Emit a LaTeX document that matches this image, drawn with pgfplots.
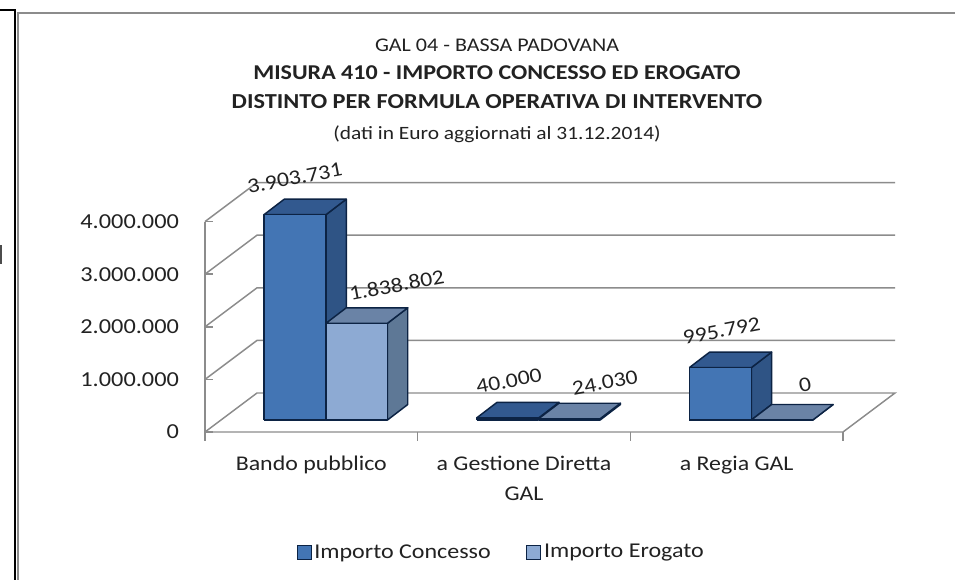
\documentclass[border=0pt]{standalone}
\usepackage{fontspec}
\setmainfont[FakeStretch=1.14]{Carlito}
\usepackage{pgfplots}
\pgfplotsset{compat=1.18}
\definecolor{gridc}{HTML}{8C8C8C}
\definecolor{edgec}{HTML}{0C2344}
\definecolor{cfront}{HTML}{4375B4}
\definecolor{ctop}{HTML}{32598F}
\definecolor{cside}{HTML}{2F5485}
\definecolor{efront}{HTML}{8DAAD3}
\definecolor{etop}{HTML}{6A83A6}
\definecolor{eside}{HTML}{5E7896}
\definecolor{textc}{HTML}{222222}
% one bar: x-left, x-right, value in euro, front, top and side colours
\newcommand{\cube}[6]{%
  \pgfmathsetmacro\xa{#1+0.0954}%
  \pgfmathsetmacro\xb{#2+0.0954}%
  \edef\ybase{228137}%
  \edef\ybaseb{\the\numexpr228137+294700\relax}%
  \edef\ytop{\the\numexpr228137+#3\relax}%
  \edef\ytopb{\the\numexpr228137+#3+294700\relax}%
  \edef\doit{%
    \noexpand\addplot[fill=#6,draw=edgec,line width=1.1pt,line join=round,forget plot] coordinates {(#2,\ybase) (\xb,\ybaseb) (\xb,\ytopb) (#2,\ytop) (#2,\ybase)};
    \noexpand\addplot[fill=#5,draw=edgec,line width=1.1pt,line join=round,forget plot] coordinates {(#1,\ytop) (#2,\ytop) (\xb,\ytopb) (\xa,\ytopb) (#1,\ytop)};
    \noexpand\addplot[fill=#4,draw=edgec,line width=1.1pt,line join=round,forget plot] coordinates {(#1,\ybase) (#2,\ybase) (#2,\ytop) (#1,\ytop) (#1,\ybase)};
  }\doit}
\begin{document}
\begin{tikzpicture}
\begin{scope}[x=0.75pt,y=-0.75pt]
  \path[use as bounding box] (0,0) rectangle (955,580);
  \fill[white] (0,0) rectangle (955,580);
  \draw[black,line width=1pt] (0,10) -- (15,10) -- (15,580);
  \draw[gridc,line width=1.4pt] (955,13) -- (18,13) -- (18,580);
  \fill[black!70] (0,245) rectangle (1.5,264);
\end{scope}
\begin{axis}[
  at={(153.75pt,-324pt)},anchor=south west,
  scale only axis,width=517.5pt,height=187.05pt,
  xmin=0,xmax=3.2445,ymin=0,ymax=4741445,
  clip=false,
  scaled y ticks=false,
  axis line style={draw=none},
  tick pos=left,
  major tick length=6pt,
  tick style={gridc,line width=1.1pt},
  xtick={0.5,1.5,2.5},
  xticklabels={Bando pubblico,a Gestione Diretta\\GAL,a Regia GAL},
  xtick style={draw=none},
  xticklabel style={align=center,anchor=north,yshift=-14.5pt,font=\fontsize{15.7}{22.5pt}\selectfont,text=textc},
  ytick={0,1000000,2000000,3000000,4000000},
  yticklabels={0,1.000.000,2.000.000,3.000.000,4.000.000},
  yticklabel style={font=\fontsize{16}{18}\selectfont,text=textc,xshift=-16pt},
  legend columns=2,
  legend image code/.code={\draw[#1] (0pt,-5.25pt) rectangle (10.5pt,5.25pt);},
  legend style={draw=none,fill=none,at={(0.4297,-0.482)},anchor=center,
    font=\fontsize{15.8}{18}\selectfont,text=textc,
    /tikz/every even column/.append style={column sep=24.5pt}},
  title style={at={(0.4232,1.109)},anchor=south,align=center,text=textc,font=\fontsize{12}{12}\selectfont},
  title={{\fontsize{14.5}{15}\selectfont GAL 04 - BASSA PADOVANA}\\[9pt]
    {\fontsize{15.8}{18}\selectfont\bfseries MISURA 410 - IMPORTO CONCESSO ED EROGATO}\\[9.75pt]
    {\fontsize{16}{18}\selectfont\bfseries DISTINTO PER FORMULA OPERATIVA DI INTERVENTO}\\[11.25pt]
    {\fontsize{14.1}{15}\selectfont (dati in Euro aggiornati al 31.12.2014)}},
]
% walls and floor
\addplot[gridc,line width=1.1pt,forget plot] coordinates {(0,0) (0,4000000)};
\addplot[gridc,line width=1.1pt,forget plot] coordinates {(0,0) (3,0) (3.2445,741445) (0.2445,741445) (0,0)};
\addplot[gridc,line width=1.1pt,forget plot] coordinates {(0,1000000) (0.2445,1741445) (3.2445,1741445)};
\addplot[gridc,line width=1.1pt,forget plot] coordinates {(0,2000000) (0.2445,2741445) (3.2445,2741445)};
\addplot[gridc,line width=1.1pt,forget plot] coordinates {(0,3000000) (0.2445,3741445) (3.2445,3741445)};
\addplot[gridc,line width=1.1pt,forget plot] coordinates {(0,4000000) (0.2445,4741445) (3.2445,4741445)};
% x tick marks
\addplot[gridc,line width=1.1pt,forget plot] coordinates {(0,0) (0,-171000)};
\addplot[gridc,line width=1.1pt,forget plot] coordinates {(1,0) (1,-171000)};
\addplot[gridc,line width=1.1pt,forget plot] coordinates {(2,0) (2,-171000)};
\addplot[gridc,line width=1.1pt,forget plot] coordinates {(3,0) (3,-171000)};
% bars
\cube{0.2774}{0.5689}{3903731}{cfront}{ctop}{cside}
\cube{0.5689}{0.8580}{1838802}{efront}{etop}{eside}
\cube{1.2774}{1.5689}{40000}{cfront}{ctop}{cside}
\cube{1.5689}{1.8580}{24030}{efront}{etop}{eside}
\cube{2.2774}{2.5689}{995792}{cfront}{ctop}{cside}
\cube{2.5689}{2.8580}{0}{efront}{etop}{eside}
% legend
\addlegendimage{fill=cfront,draw=edgec,line width=0.9pt}
\addlegendentry{Importo Concesso}
\addlegendimage{fill=efront,draw=edgec,line width=0.9pt}
\addlegendentry{Importo Erogato}
% data labels
\begin{scope}[every node/.style={rotate=10.7,font=\fontsize{15.6}{18}\selectfont,text=textc,inner sep=0pt}]
\node at (axis cs:0.4220,4828897) {3.903.731};
\node at (axis cs:0.9013,2794677) {1.838.802};
\node at (axis cs:1.4293,969582) {40.000};
\node at (axis cs:1.8806,937262) {24.030};
\node at (axis cs:2.4292,1925856) {995.792};
\node at (axis cs:2.8209,893536) {0};
\end{scope}
\end{axis}
\end{tikzpicture}
\end{document}
